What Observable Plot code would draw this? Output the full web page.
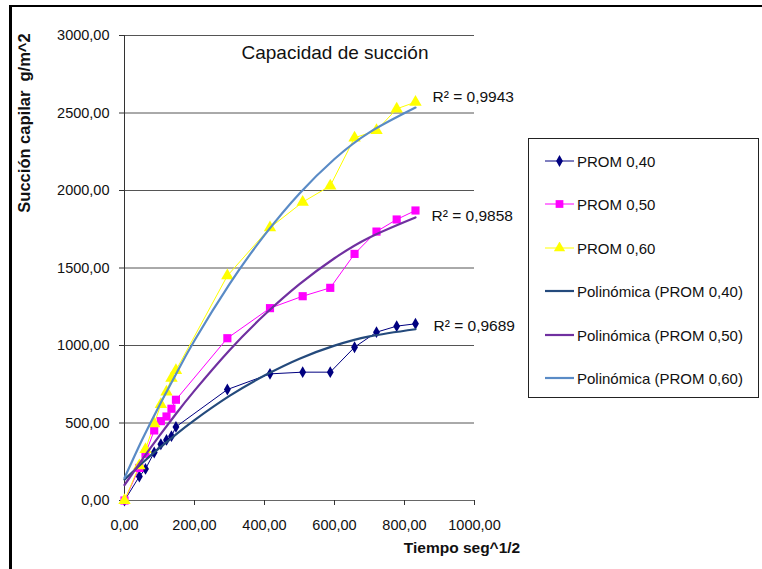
<!DOCTYPE html>
<html>
<head>
<meta charset="utf-8">
<script src="https://cdn.jsdelivr.net/npm/d3@7"></script>
<script src="https://cdn.jsdelivr.net/npm/@observablehq/plot@0.6"></script>
<style>
  body { margin: 0; background: #fff; }
  #wrap { position: relative; width: 762px; height: 569px; background: #fff; overflow: hidden; font-family: "Liberation Sans", Arial, sans-serif; color: #111; }
  #wrap svg { position: absolute; left: 0; top: 0; }
  .ov { position: absolute; white-space: pre; }
</style>
</head>
<body>
<div id="wrap"></div>
<script>
// ---- data ----
const tiempo = [0, 42.4, 60, 84.9, 103.9, 120, 134.2, 147, 293.9, 415.7, 509.1, 587.9, 657.3, 720, 777.7, 831.4];
const prom40 = [0, 155, 204, 310, 363, 391, 415, 475, 716, 817, 828, 828, 989, 1086, 1125, 1140];
const prom50 = [0, 210, 301, 452, 512, 542, 592, 650, 1047, 1241, 1318, 1372, 1591, 1735, 1813, 1871];
const prom60 = [0, 225, 330, 495, 620, 700, 790, 839, 1450, 1760, 1925, 2030, 2340, 2387, 2527, 2570];

// trend (polynomial) curves
const trendX  = [0, 50, 100, 150, 200, 300, 400, 500, 600, 700, 831.4];
const trend40 = [135, 240, 339, 432, 519, 675, 806, 915, 999, 1059, 1105];
const trend50 = [100, 262, 418, 568, 709, 970, 1198, 1396, 1563, 1697, 1826];
const trend60 = [145, 390, 615, 828, 1032, 1396, 1712, 1981, 2203, 2375, 2535];

const r2Labels = ["R² = 0,9689", "R² = 0,9858", "R² = 0,9943"];

const xTicks = [0, 200, 400, 600, 800, 1000];
const yTicks = [0, 500, 1000, 1500, 2000, 2500, 3000];

const seriesNames = ["PROM 0,40", "PROM 0,50", "PROM 0,60"];
const trendNames = ["Polinómica (PROM 0,40)", "Polinómica (PROM 0,50)", "Polinómica (PROM 0,60)"];

// ---- build tables ----
const colors = { "PROM 0,40": "#000080", "PROM 0,50": "#ff00ff", "PROM 0,60": "#ffff00" };
const trendColors = ["#244a7c", "#7030a0", "#5a8bc6"];
const symbols = { "PROM 0,40": "diamond", "PROM 0,50": "square", "PROM 0,60": "triangle" };
const sizes = { "PROM 0,40": 3.6, "PROM 0,50": 4.6, "PROM 0,60": 4.6 };

const seriesVals = [prom40, prom50, prom60];
const points = seriesNames.flatMap((s, i) => tiempo.map((t, j) => ({ s, x: t, y: seriesVals[i][j] })));
const trendVals = [trend40, trend50, trend60];
const trends = trendNames.map((n, i) => trendX.map((t, j) => ({ s: n, x: t, y: trendVals[i][j] })));
const lastTrend = trends.map((tr, i) => ({ ...tr[tr.length - 1], label: r2Labels[i] }));
const r2Off = [{ dx: 18, dy: -3 }, { dx: 16, dy: -1 }, { dx: 17, dy: -11 }];

const fmt = d => d.toFixed(2).replace(".", ",");

const plot = Plot.plot({
  width: 762,
  height: 569,
  marginLeft: 124,
  marginRight: 288,
  marginTop: 35,
  marginBottom: 69,
  x: { domain: [0, 1000], label: null },
  y: { domain: [0, 3000], label: null },
  style: { fontFamily: "'Liberation Sans', Arial, sans-serif", fontSize: "14px", color: "#111", background: "transparent" },
  marks: [
    Plot.gridY(yTicks, { stroke: "#555", strokeOpacity: 1, strokeWidth: 1 }),
    Plot.ruleY([0], { stroke: "#666", strokeWidth: 1 }),
    Plot.ruleX([0], { stroke: "#333", strokeWidth: 1 }),
    Plot.axisY(yTicks, { tickFormat: fmt, tickSize: 5, tickPadding: 10, fontSize: 14.5, stroke: "#333" }),
    Plot.axisX(xTicks, { tickFormat: fmt, tickSize: 5, tickPadding: 14, fontSize: 14.5, stroke: "#333" }),
    ...seriesNames.map(s => Plot.line(points.filter(d => d.s === s), { x: "x", y: "y", stroke: colors[s], strokeWidth: 1 })),
    ...seriesNames.map(s => Plot.dot(points.filter(d => d.s === s), { x: "x", y: "y", fill: colors[s], stroke: "none", symbol: symbols[s], r: sizes[s] })),
    ...trends.map((tr, i) => Plot.line(tr, { x: "x", y: "y", stroke: trendColors[i], strokeWidth: 2.2, curve: "natural" })),
    ...lastTrend.map((d, i) => Plot.text([d], { x: "x", y: "y", text: "label", textAnchor: "start", dx: r2Off[i].dx, dy: r2Off[i].dy, fontSize: 15.5, fill: "#111" }))
  ]
});

const wrap = document.getElementById("wrap");
wrap.appendChild(plot);

// frame
const frame = document.createElement("div");
frame.style.cssText = "position:absolute;left:9px;top:5px;right:-10px;bottom:-10px;border-left:3px solid #000;border-top:2px solid #000;";
wrap.appendChild(frame);

// title
const title = document.createElement("div");
title.className = "ov";
title.textContent = "Capacidad de succión";
title.style.cssText += "left:335px;top:53px;transform:translate(-50%,-50%);font-size:19px;";
wrap.appendChild(title);

// axis titles
const ylab = document.createElement("div");
ylab.className = "ov";
ylab.textContent = "Succión capilar  g/m^2";
ylab.style.cssText += "left:24px;top:123px;transform:translate(-50%,-50%) rotate(-90deg);font-size:16.5px;font-weight:bold;";
wrap.appendChild(ylab);

const xlab = document.createElement("div");
xlab.className = "ov";
xlab.textContent = "Tiempo seg^1/2";
xlab.style.cssText += "left:462px;top:548px;transform:translate(-50%,-50%);font-size:15.5px;font-weight:bold;";
wrap.appendChild(xlab);

// legend
const leg = document.createElement("div");
leg.style.cssText = "position:absolute;left:528px;top:138px;width:231px;height:260px;border:1px solid #222;box-sizing:border-box;background:#fff;";
wrap.appendChild(leg);
const rowCenters = [22, 65, 109, 152, 196, 239];
const items = [
  ...seriesNames.map(s => ({ name: s, color: colors[s], w: 1, sym: symbols[s] })),
  ...trendNames.map((n, i) => ({ name: n, color: trendColors[i], w: 2.2, sym: null }))
];
items.forEach((it, i) => {
  const sw = d3.create("svg").attr("width", 30).attr("height", 12)
    .style("position", "absolute").style("left", "16px").style("top", (rowCenters[i] - 6) + "px");
  sw.append("line").attr("x1", 0).attr("x2", 29).attr("y1", 6).attr("y2", 6)
    .attr("stroke", it.color).attr("stroke-width", it.w);
  if (it.sym) {
    const sy = { diamond: d3.symbolDiamond, square: d3.symbolSquare, triangle: d3.symbolTriangle }[it.sym];
    const sz = { diamond: 40, square: 60, triangle: 55 }[it.sym];
    sw.append("path").attr("d", d3.symbol(sy, sz)()).attr("transform", "translate(14.5,6)").attr("fill", it.color);
  }
  leg.appendChild(sw.node());
  const t = document.createElement("div");
  t.className = "ov";
  t.textContent = it.name;
  t.style.cssText += `left:48px;top:${rowCenters[i]}px;transform:translateY(-50%);font-size:15px;`;
  leg.appendChild(t);
});
</script>
</body>
</html>
